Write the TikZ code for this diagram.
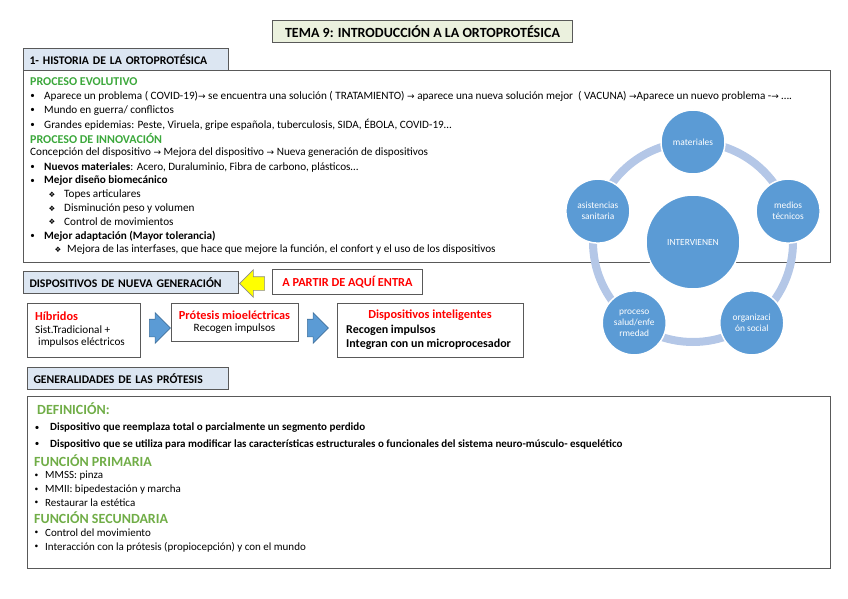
\documentclass[tikz,border=0pt]{standalone}
\usepackage{fontspec}
\setmainfont{Carlito}
\newfontfamily\symfont{DejaVu Sans}
\usetikzlibrary{calc,positioning,shapes.arrows}
\definecolor{boxgris}{RGB}{89,89,89}
\definecolor{verdetit}{RGB}{235,241,222}
\definecolor{azulhdr}{RGB}{220,230,242}
\definecolor{verdeproc}{RGB}{60,168,60}
\definecolor{verdedef}{RGB}{112,173,71}
\definecolor{rojotxt}{RGB}{255,0,0}
\definecolor{azulcirc}{RGB}{91,155,213}
\definecolor{azulanillo}{RGB}{180,199,231}
\definecolor{azulborde}{RGB}{65,113,156}
\definecolor{amarillo}{RGB}{255,255,0}
\newcommand{\flecha}{{\symfont\fontsize{9}{9}\selectfont\char"2192}}
\newcommand{\sz}[1]{\fontsize{#1}{#1}\selectfont}
\tikzset{
  titbox/.style={draw=boxgris, fill=verdetit, line width=1pt, anchor=north west,
                 minimum height=22pt, inner sep=0pt, font=\sz{14}\bfseries},
  hdrbox/.style={draw=boxgris, fill=azulhdr, line width=1pt, anchor=north west,
                 minimum height=22pt, inner xsep=6pt, inner ysep=0pt, align=left,
                 font=\sz{11.7}\bfseries},
  mainbox/.style={draw=boxgris, line width=1.2pt, anchor=north west, inner sep=0pt},
  devbox/.style={draw=boxgris, line width=0.8pt, fill=white, anchor=north west, inner sep=0pt},
  txt/.style={anchor=west, inner sep=0pt, font=\sz{11.2}},
  txtb/.style={txt, font=\sz{11.2}\bfseries},
  txtp/.style={txt, font=\sz{11}},
  seccion/.style={txt, font=\sz{12}\bfseries, text=verdeproc},
  seccionB/.style={txt, font=\sz{14}\bfseries, text=verdedef},
  vineta/.style={inner sep=0pt, font=\sz{9}},
  rombo/.style={inner sep=0pt, font=\symfont\sz{7.5}},
  rojo/.style={inner sep=0pt, font=\sz{12.3}\bfseries, text=rojotxt},
  flechaazul/.style={single arrow, draw=azulborde, fill=azulcirc, line width=0.6pt,
                     minimum height=21pt, inner xsep=0pt, inner ysep=8.5pt,
                     single arrow head extend=6.5pt},
  anillo/.style={azulanillo, line width=8pt},
  hub/.style={circle, fill=azulcirc, draw=white, line width=1.5pt, minimum size=94pt,
              inner sep=0pt, text=white, font=\sz{9.4}},
  satelite/.style={hub, minimum size=64pt, align=center, font=\fontsize{9.4}{11}\selectfont},
}

\begin{document}
\begin{tikzpicture}[x=1pt, y=-1pt]
  \useasboundingbox (0,0) rectangle (848,599);

  % ---- title -------------------------------------------------------------
  \node[titbox, minimum width=300pt] (tema) at (272,20)
    {TEMA 9: INTRODUCCIÓN A LA ORTOPROTÉSICA};

  % ---- historia ----------------------------------------------------------
  \node[mainbox, minimum width=807pt, minimum height=192pt] (hist) at (23,70) {};
  \node[hdrbox, text width=193pt] (histhdr) at (23,48) {1- HISTORIA DE LA ORTOPROTÉSICA};

  \node[seccion] (evo) at (30,82) {PROCESO EVOLUTIVO};
  \foreach \y in {96,110.5,125} \node[vineta] at (32.5,\y) {•};
  \node[txt] (evo1) at (44,96)
    {Aparece un problema ( COVID-19)\flecha{} se encuentra una solución ( TRATAMIENTO) \flecha{}
     aparece una nueva solución mejor \ ( VACUNA) \flecha Aparece un nuevo problema -\flecha{} ….};
  \node[txt] (evo2) at (44,110.5) {Mundo en guerra/ conflictos};
  \node[txt] (evo3) at (44,125)
    {Grandes epidemias: Peste, Viruela, gripe española, tuberculosis, SIDA, ÉBOLA, COVID-19…};

  \node[seccion] (inn) at (30,139) {PROCESO DE INNOVACIÓN};
  \node[txt] (inn0) at (30,153)
    {Concepción del dispositivo \flecha{} Mejora del dispositivo \flecha{} Nueva generación de dispositivos};
  \foreach \y in {167,181,236} \node[vineta] at (32.5,\y) {•};
  \node[txt] (inn1) at (44,167) {\textbf{Nuevos materiales}: Acero, Duraluminio, Fibra de carbono, plásticos…};
  \node[txtb] (inn2) at (44,181) {Mejor diseño biomecánico};
  \foreach \y in {195,208.5,222} \node[rombo] at (52,\y) {❖};
  \node[txt] (inn21) at (64,195) {Topes articulares};
  \node[txt] (inn22) at (64,208.5) {Disminución peso y volumen};
  \node[txt] (inn23) at (64,222) {Control de movimientos};
  \node[txtb] (inn3) at (44,236) {Mejor adaptación (Mayor tolerancia)};
  \node[rombo] at (58,250) {❖};
  \node[txt] (inn31) at (67,250)
    {Mejora de las interfases, que hace que mejore la función, el confort y el uso de los dispositivos};

  % ---- intervienen -------------------------------------------------------
  \coordinate (centro) at (693,242);
  \draw[anillo] (centro) circle[radius=100];
  \node[hub] (interv) at (centro) {INTERVIENEN};
  \node[satelite] (mat) at ($(centro)+(-90:100)$) {materiales};
  \node[satelite] (med) at ($(centro)+(-18:100)$) {medios\\técnicos};
  \node[satelite] (org) at ($(centro)+(54:100)$) {organizaci\\ón social};
  \node[satelite] (pro) at ($(centro)+(126:100)$) {proceso\\salud/enfe\\rmedad};
  \node[satelite] (asi) at ($(centro)+(198:100)$) {asistencias\\sanitaria};

  % ---- nueva generacion --------------------------------------------------
  \node[hdrbox, text width=203pt] (nuevahdr) at (23,271) {DISPOSITIVOS DE NUEVA GENERACIÓN};
  \node[single arrow, shape border rotate=180, draw=boxgris!70, fill=amarillo,
        line width=0.6pt, minimum height=25pt, inner xsep=0pt, inner ysep=6.5pt,
        single arrow head extend=7pt] (aviso) at (255.5,283.5) {};
  \node[devbox, minimum width=150pt, minimum height=25pt, rojo] (entra) at (272,269)
    {A PARTIR DE AQUÍ ENTRA};

  \node[devbox, minimum width=113pt, minimum height=54pt] (hib) at (27,303) {};
  \node[rojo, anchor=west] (hibt) at (35,316) {Híbridos};
  \node[txt] (hib1) at (35,330) {Sist.Tradicional +};
  \node[txt] (hib2) at (38,343) {impulsos eléctricos};

  \node[flechaazul] (fa1) at (155.5,328) {};

  \node[devbox, minimum width=127pt, minimum height=38pt] (mio) at (171,303) {};
  \node[rojo] (miot) at (234.5,315.5) {Prótesis mioeléctricas};
  \node[txt, anchor=center] (mio1) at (234.5,329) {Recogen impulsos};

  \node[flechaazul] (fa2) at (313.5,328) {};

  \node[devbox, minimum width=186pt, minimum height=54pt] (intel) at (337,303) {};
  \node[rojo] (intelt) at (430,315.5) {Dispositivos inteligentes};
  \node[txt, font=\sz{12}\bfseries] (intel1) at (346,330) {Recogen impulsos};
  \node[txt, font=\sz{12}\bfseries] (intel2) at (346,344) {Integran con un microprocesador};

  % ---- generalidades -----------------------------------------------------
  \node[hdrbox, text width=189pt] (genhdr) at (27,367) {GENERALIDADES DE LAS PRÓTESIS};
  \node[mainbox, minimum width=803pt, minimum height=172pt] (gen) at (27,396) {};

  \node[seccionB] (defi) at (37,409) {DEFINICIÓN:};
  \foreach \y in {428,444} \node[vineta] at (37,\y) {•};
  \node[txtb, font=\sz{11}\bfseries] (def1) at (50,428)
    {Dispositivo que reemplaza total o parcialmente un segmento perdido};
  \node[txtb, font=\sz{11}\bfseries] (def2) at (50,444)
    {Dispositivo que se utiliza para modificar las características estructurales o funcionales del sistema neuro-músculo- esquelético};

  \node[seccionB] (prim) at (34,461) {FUNCIÓN PRIMARIA};
  \foreach \y in {476,489.5,503,533,547} \node[vineta, font=\sz{7.5}] at (36.5,\y) {•};
  \node[txtp] (prim1) at (45,476) {MMSS: pinza};
  \node[txtp] (prim2) at (45,489.5) {MMII: bipedestación y marcha};
  \node[txtp] (prim3) at (45,503) {Restaurar la estética};

  \node[seccionB] (sec) at (34,518) {FUNCIÓN SECUNDARIA};
  \node[txtp] (sec1) at (45,533) {Control del movimiento};
  \node[txtp] (sec2) at (45,547) {Interacción con la prótesis (propiocepción) y con el mundo};
\end{tikzpicture}
\end{document}
